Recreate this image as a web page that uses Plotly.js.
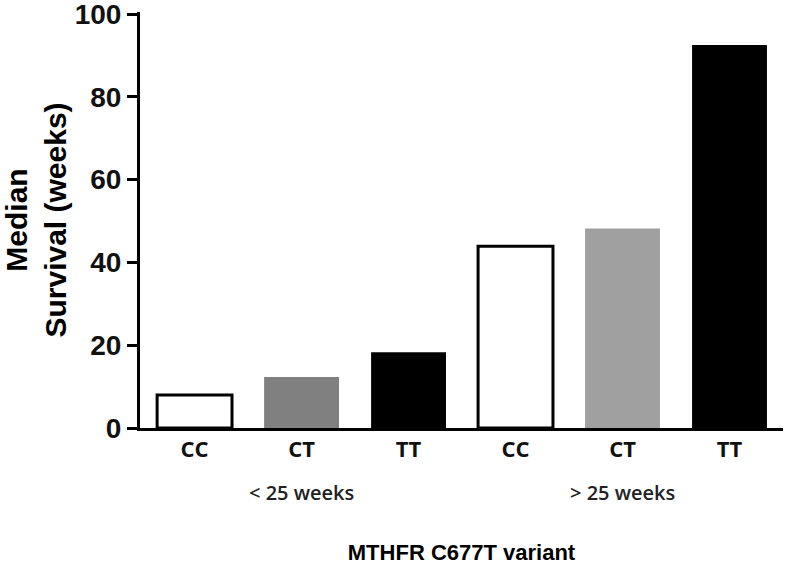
<!DOCTYPE html>
<html>
<head>
<meta charset="utf-8">
<script src="https://cdn.plot.ly/plotly-3.0.1.min.js"></script>
<style>html,body{margin:0;padding:0;background:#fff;}#chart{width:787px;height:565px;}</style>
</head>
<body>
<div id="chart"></div>
<script>
// Data
var genotypes = ['CC', 'CT', 'TT', 'CC', 'CT', 'TT'];
var groups = ['< 25 weeks', '> 25 weeks'];
var medianSurvival = [8, 12.3, 18.3, 43.9, 48.2, 92.5];
var yTicks = [0, 20, 40, 60, 80, 100];

// Styles
var fillColors = ['#ffffff', '#808080', '#000000', '#ffffff', '#a0a0a0', '#000000'];
var lineColors = ['#000000', '#808080', '#000000', '#000000', '#a0a0a0', '#000000'];
var lineWidths = [3, 0, 0, 3, 0, 0];

var idx = genotypes.map(function (_, i) { return i; });

var trace = {
  type: 'bar',
  x: idx,
  y: medianSurvival,
  width: 0.7,
  marker: {
    color: fillColors,
    line: { color: lineColors, width: lineWidths }
  },
  hoverinfo: 'skip'
};

var groupCenters = [1, 4];
var annotations = groups.map(function (g, i) {
  return {
    text: g, x: groupCenters[i], xref: 'x', y: -0.155, yref: 'paper',
    showarrow: false, xanchor: 'center', yanchor: 'middle',
    font: { family: 'Open Sans, sans-serif', size: 20, color: '#222', weight: 600 }
  };
});

var layout = {
  width: 787, height: 565,
  margin: { l: 140, r: 4, t: 12, b: 137 },
  paper_bgcolor: '#ffffff', plot_bgcolor: '#ffffff',
  showlegend: false,
  xaxis: {
    range: [-0.51, 5.5],
    tickmode: 'array', tickvals: idx, ticktext: genotypes,
    ticks: '', showgrid: false, zeroline: false,
    showline: true, linecolor: '#000', linewidth: 3,
    tickfont: { family: 'Open Sans, sans-serif', size: 22, color: '#111', weight: 700 },
    title: {
      text: 'MTHFR C677T variant', standoff: 89,
      font: { family: 'Liberation Sans, Arial, sans-serif', size: 22, color: '#000', weight: 700 }
    },
    automargin: false
  },
  yaxis: {
    range: [0, 100.5],
    tickmode: 'array', tickvals: yTicks,
    ticks: 'outside', ticklen: 10, tickwidth: 3, tickcolor: '#000',
    ticklabeloverflow: 'allow',
    showgrid: false, zeroline: false,
    showline: true, linecolor: '#000', linewidth: 3,
    tickfont: { family: 'Liberation Sans, Arial, sans-serif', size: 28, color: '#111', weight: 700 },
    title: {
      text: 'Median<br>Survival (weeks)', standoff: 19,
      font: { family: 'Liberation Sans, Arial, sans-serif', size: 30, color: '#000', weight: 700 }
    },
    automargin: false
  },
  annotations: annotations
};

Plotly.newPlot('chart', [trace], layout, { displayModeBar: false, staticPlot: true });
</script>
</body>
</html>
